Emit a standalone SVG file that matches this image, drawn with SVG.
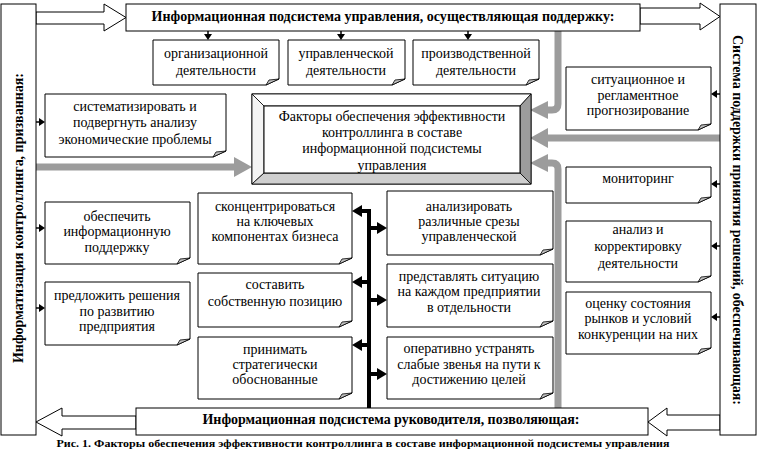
<svg xmlns="http://www.w3.org/2000/svg" width="760" height="453" viewBox="0 0 760 453">
<style>
.bx{fill:#fff;stroke:#000;stroke-width:1}
.note{fill:#fff;stroke:#000;stroke-width:1}
.fold{fill:#c0c0c0;stroke:#000;stroke-width:0.8}
.t{font-family:'Liberation Serif','Times New Roman',Tinos,'DejaVu Serif',serif;font-size:14px;fill:#000;text-anchor:middle}
.b{font-family:'Liberation Serif','Times New Roman',Tinos,'DejaVu Serif',serif;font-size:14px;font-weight:bold;fill:#000;text-anchor:middle}
.cap{font-family:'Liberation Serif','Times New Roman',Tinos,'DejaVu Serif',serif;font-size:11px;font-weight:bold;fill:#000;text-anchor:middle}
.hollow{fill:#fff;stroke:#000;stroke-width:1}
.grey{fill:none;stroke:#9c9c9c;stroke-width:7}
.greyh{fill:#9c9c9c}
.blk{fill:none;stroke:#000;stroke-width:4}
.ah{fill:#000}
.sl{stroke:#000;stroke-width:1.5}
</style>
<defs>
<clipPath id="cc"><rect x="264" y="106" width="256" height="67"/></clipPath>
</defs>

<g id="connectors">
  <polygon class="hollow" points="36,12 104,12 104,4 126,17.5 104,31 104,24 36,24"/>
  <polygon class="hollow" points="640,8 700,8 700,3 720,16.5 700,30 700,24 640,24"/>
  <polygon class="hollow" points="136,416 62,416 62,408 36,422 62,436 62,429 136,429"/>
  <polygon class="hollow" points="720,415 667,415 667,408 648,422 667,436 667,430 720,430"/>
  <path class="grey" d="M36 167 H235"/>
  <polygon class="greyh" points="234,157 252,167 234,177"/>
  <path class="grey" d="M720 138 H546"/>
  <polygon class="greyh" points="548,128 530,138 548,148"/>
  <path class="grey" d="M558 31 V104 Q558 110 552 110 H546"/>
  <polygon class="greyh" points="548,101 530,110 548,119"/>
  <path class="grey" d="M558 408 V169 Q558 163 552 163 H546"/>
  <polygon class="greyh" points="548,154 530,163 548,172"/>
  <line class="sl" x1="208" y1="31" x2="208" y2="35"/><polygon class="ah" points="204,34 212,34 208,40"/>
  <line class="sl" x1="341" y1="31" x2="341" y2="35"/><polygon class="ah" points="337,34 345,34 341,40"/>
  <line class="sl" x1="468" y1="31" x2="468" y2="35"/><polygon class="ah" points="464,34 472,34 468,40"/>
  <line class="sl" x1="36" y1="122" x2="40" y2="122"/><polygon class="ah" points="39,118 45,122 39,126"/>
  <line class="sl" x1="36" y1="228" x2="40" y2="228"/><polygon class="ah" points="39,224 45,228 39,232"/>
  <line class="sl" x1="36" y1="308" x2="40" y2="308"/><polygon class="ah" points="39,304 45,308 39,312"/>
  <line class="sl" x1="720" y1="94" x2="716" y2="94"/><polygon class="ah" points="717,90 711,94 717,98"/>
  <line class="sl" x1="720" y1="184" x2="716" y2="184"/><polygon class="ah" points="717,180 711,184 717,188"/>
  <line class="sl" x1="720" y1="246" x2="716" y2="246"/><polygon class="ah" points="717,242 711,246 717,250"/>
  <line class="sl" x1="720" y1="317" x2="716" y2="317"/><polygon class="ah" points="717,313 711,317 717,321"/>
  <path class="blk" d="M369 408 V211 H360"/>
  <path class="blk" d="M369 282 H360 M369 345 H360 M369 228 H379 M369 300 H379 M369 374 H379"/>
  <polygon class="ah" points="362,205 352,211 362,217"/>
  <polygon class="ah" points="362,276 352,282 362,288"/>
  <polygon class="ah" points="362,339 352,345 362,351"/>
  <polygon class="ah" points="377,222 387,228 377,234"/>
  <polygon class="ah" points="377,294 387,300 377,306"/>
  <polygon class="ah" points="377,368 387,374 377,380"/>
</g>

<g id="left-system">
  <rect class="bx" x="1" y="4" width="35" height="431"/>
  <text class="b" transform="translate(23,218) rotate(-90)" textLength="290" lengthAdjust="spacing">Информатизация контроллинга, призванная:</text>
</g>

<g id="right-system">
  <rect class="bx" x="720" y="4" width="36" height="431"/>
  <text class="b" transform="translate(733,220) rotate(90)" textLength="370" lengthAdjust="spacing">Система поддержки принятия решений, обеспечивающая:</text>
</g>

<g id="top-banner">
  <rect class="bx" x="126" y="4" width="514" height="27"/>
  <text class="b" x="383" y="21" textLength="463" lengthAdjust="spacing">Информационная подсистема управления, осуществляющая поддержку:</text>
</g>

<g id="bottom-banner">
  <rect class="bx" x="136" y="408" width="512" height="27"/>
  <text class="b" x="391" y="424" textLength="377" lengthAdjust="spacing">Информационная подсистема руководителя, позволяющая:</text>
</g>

<g id="center">
  <rect x="252" y="94" width="279" height="90" fill="#fff" stroke="#000"/>
  <polygon points="252,94 531,94 520,106 264,106" fill="#fff" stroke="#000" stroke-width="0.8"/>
  <polygon points="252,94 264,106 264,173 252,184" fill="#f4f4f4" stroke="#000" stroke-width="0.8"/>
  <polygon points="531,94 531,184 520,173 520,106" fill="#9c9c9c" stroke="#000" stroke-width="0.8"/>
  <polygon points="252,184 264,173 520,173 531,184" fill="#cfcfcf" stroke="#000" stroke-width="0.8"/>
  <rect x="264" y="106" width="256" height="67" fill="#fff" stroke="#000"/>
  <g clip-path="url(#cc)">
    <text class="t" x="392" y="121">Факторы обеспечения эффективности</text>
    <text class="t" x="392" y="137">контроллинга в составе</text>
    <text class="t" x="392" y="153">информационной  подсистемы</text>
    <text class="t" x="392" y="170">управления</text>
  </g>
</g>

<g id="n-org">
  <path class="note" d="M153 40 H279 V79 L266 85 H153 Z"/><path class="fold" d="M266 85 L269 80 L279 79 Z"/>
  <text class="t" x="216" y="58">организационной</text>
  <text class="t" x="216" y="75">деятельности</text>
</g>
<g id="n-upr">
  <path class="note" d="M288 40 H405 V79 L392 85 H288 Z"/><path class="fold" d="M392 85 L395 80 L405 79 Z"/>
  <text class="t" x="346" y="58">управленческой</text>
  <text class="t" x="346" y="75">деятельности</text>
</g>
<g id="n-proizv">
  <path class="note" d="M413 40 H539 V79 L526 85 H413 Z"/><path class="fold" d="M526 85 L529 80 L539 79 Z"/>
  <text class="t" x="476" y="58">производственной</text>
  <text class="t" x="476" y="75">деятельности</text>
</g>

<g id="n-sistem">
  <path class="note" d="M45 94 H226 V151 L213 157 H45 Z"/><path class="fold" d="M213 157 L216 152 L226 151 Z"/>
  <text class="t" x="135" y="111">систематизировать и</text>
  <text class="t" x="135" y="127">подвергнуть анализу</text>
  <text class="t" x="135" y="144">экономические  проблемы</text>
</g>
<g id="n-obesp">
  <path class="note" d="M45 202 H190 V258 L177 264 H45 Z"/><path class="fold" d="M177 264 L180 259 L190 258 Z"/>
  <text class="t" x="117" y="221">обеспечить</text>
  <text class="t" x="117" y="236">информационную</text>
  <text class="t" x="117" y="252">поддержку</text>
</g>
<g id="n-predl">
  <path class="note" d="M45 282 H190 V339 L177 345 H45 Z"/><path class="fold" d="M177 345 L180 340 L190 339 Z"/>
  <text class="t" x="117" y="300">предложить решения</text>
  <text class="t" x="117" y="316">по развитию</text>
  <text class="t" x="117" y="331">предприятия</text>
</g>

<g id="n-skonc">
  <path class="note" d="M198 193 H352 V258 L339 264 H198 Z"/><path class="fold" d="M339 264 L342 259 L352 258 Z"/>
  <text class="t" x="275" y="211">сконцентрироваться</text>
  <text class="t" x="275" y="226">на ключевых</text>
  <text class="t" x="275" y="241">компонентах  бизнеса</text>
</g>
<g id="n-sostav">
  <path class="note" d="M198 273 H352 V321 L339 327 H198 Z"/><path class="fold" d="M339 327 L342 322 L352 321 Z"/>
  <text class="t" x="275" y="289">составить</text>
  <text class="t" x="275" y="306">собственную позицию</text>
</g>
<g id="n-prinim">
  <path class="note" d="M198 337 H352 V393 L339 399 H198 Z"/><path class="fold" d="M339 399 L342 394 L352 393 Z"/>
  <text class="t" x="275" y="354">принимать</text>
  <text class="t" x="275" y="369">стратегически</text>
  <text class="t" x="275" y="384">обоснованные</text>
</g>

<g id="n-analiz">
  <path class="note" d="M387 191 H553 V249 L540 255 H387 Z"/><path class="fold" d="M540 255 L543 250 L553 249 Z"/>
  <text class="t" x="469" y="211">анализировать</text>
  <text class="t" x="469" y="226">различные срезы</text>
  <text class="t" x="469" y="241">управленческой</text>
</g>
<g id="n-predst">
  <path class="note" d="M387 264 H553 V321 L540 327 H387 Z"/><path class="fold" d="M540 327 L543 322 L553 321 Z"/>
  <text class="t" x="469" y="281">представлять ситуацию</text>
  <text class="t" x="469" y="296">на каждом предприятии</text>
  <text class="t" x="469" y="312">в отдельности</text>
</g>
<g id="n-operat">
  <path class="note" d="M387 337 H553 V393 L540 399 H387 Z"/><path class="fold" d="M540 399 L543 394 L553 393 Z"/>
  <text class="t" x="469" y="353">оперативно устранять</text>
  <text class="t" x="469" y="369">слабые звенья на пути к</text>
  <text class="t" x="469" y="384">достижению целей</text>
</g>

<g id="n-situac">
  <path class="note" d="M566 67 H711 V124 L698 130 H566 Z"/><path class="fold" d="M698 130 L701 125 L711 124 Z"/>
  <text class="t" x="638" y="84">ситуационное и</text>
  <text class="t" x="638" y="100">регламентное</text>
  <text class="t" x="638" y="115">прогнозирование</text>
</g>
<g id="n-monitor">
  <path class="note" d="M566 167 H711 V197 L698 203 H566 Z"/><path class="fold" d="M698 203 L701 198 L711 197 Z"/>
  <text class="t" x="638" y="183">мониторинг</text>
</g>
<g id="n-korr">
  <path class="note" d="M566 221 H711 V276 L698 282 H566 Z"/><path class="fold" d="M698 282 L701 277 L711 276 Z"/>
  <text class="t" x="638" y="234">анализ и</text>
  <text class="t" x="638" y="251">корректировку</text>
  <text class="t" x="638" y="268">деятельности</text>
</g>
<g id="n-ocenka">
  <path class="note" d="M566 292 H711 V348 L698 354 H566 Z"/><path class="fold" d="M698 354 L701 349 L711 348 Z"/>
  <text class="t" x="638" y="308">оценку состояния</text>
  <text class="t" x="638" y="323">рынков и условий</text>
  <text class="t" x="638" y="339">конкуренции на них</text>
</g>

<text class="cap" x="363" y="447" textLength="613" lengthAdjust="spacingAndGlyphs">Рис. 1. Факторы обеспечения эффективности контроллинга в составе информационной подсистемы управления</text>
</svg>
